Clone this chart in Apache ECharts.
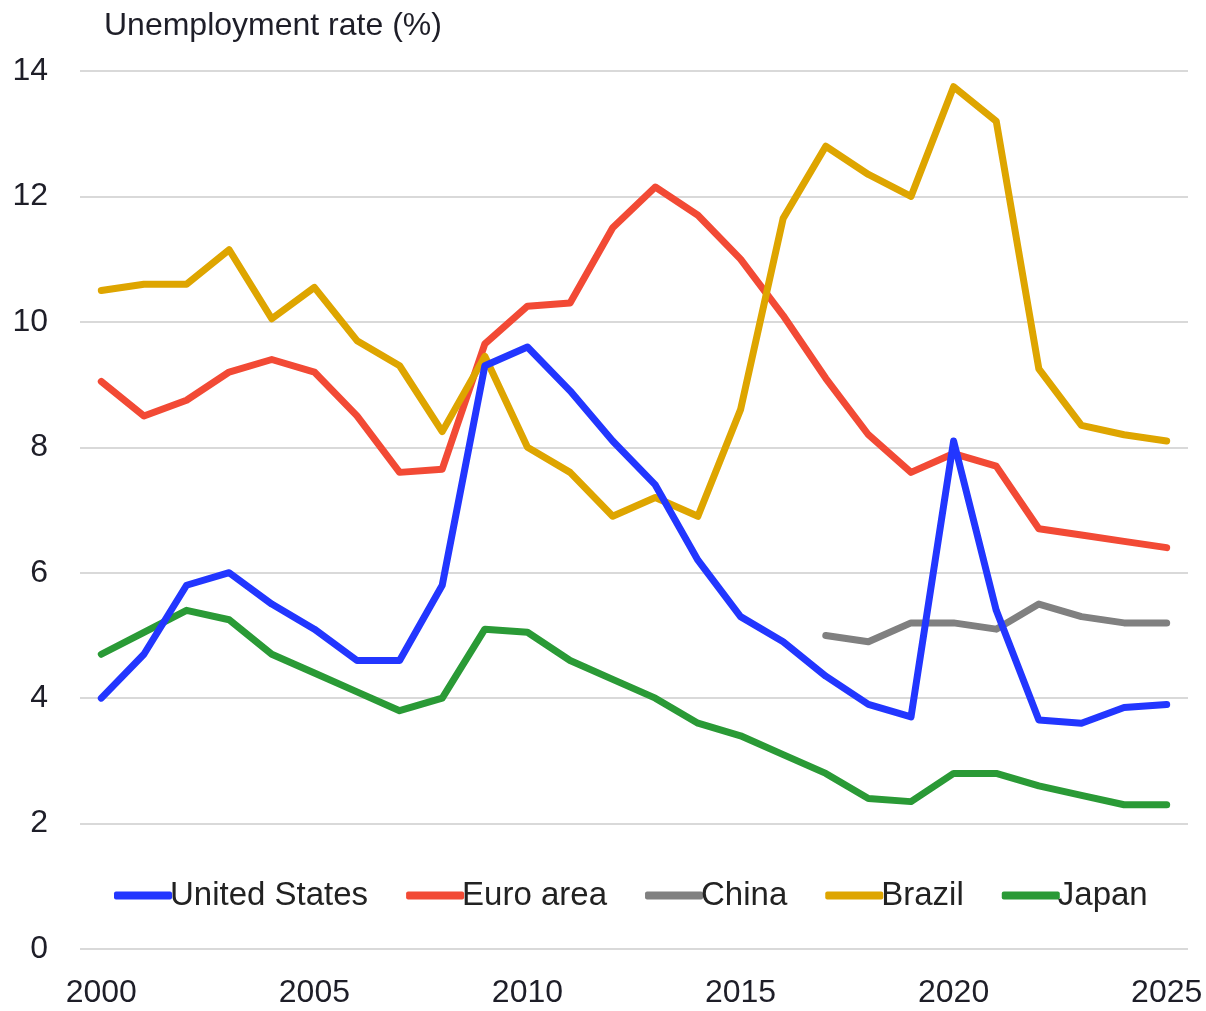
<!DOCTYPE html>
<html>
<head>
<meta charset="utf-8">
<script src="https://cdn.jsdelivr.net/npm/echarts@6/dist/echarts.min.js"></script>
<style>
  html, body { margin: 0; padding: 0; background: #fff; }
  #chart { width: 1206px; height: 1011px; }
</style>
</head>
<body>
<div id="chart"></div>
<script>
// years on the x axis
const years = [];
for (let y = 2000; y <= 2025; y++) years.push(String(y));

// unemployment rate (%)
const unitedStates = [4.0, 4.7, 5.8, 6.0, 5.5, 5.1, 4.6, 4.6, 5.8, 9.3, 9.6, 8.9, 8.1, 7.4, 6.2, 5.3, 4.9, 4.35, 3.9, 3.7, 8.1, 5.4, 3.65, 3.6, 3.85, 3.9];
const euroArea = [9.05, 8.5, 8.75, 9.2, 9.4, 9.2, 8.5, 7.6, 7.65, 9.65, 10.25, 10.3, 11.5, 12.15, 11.7, 11.0, 10.1, 9.1, 8.2, 7.6, 7.9, 7.7, 6.7, 6.6, 6.5, 6.4];
const china = [null, null, null, null, null, null, null, null, null, null, null, null, null, null, null, null, null, 5.0, 4.9, 5.2, 5.2, 5.1, 5.5, 5.3, 5.2, 5.2];
const brazil = [10.5, 10.6, 10.6, 11.15, 10.05, 10.55, 9.7, 9.3, 8.25, 9.45, 8.0, 7.6, 6.9, 7.2, 6.9, 8.6, 11.65, 12.8, 12.35, 12.0, 13.75, 13.2, 9.25, 8.35, 8.2, 8.1];
const japan = [4.7, 5.05, 5.4, 5.25, 4.7, 4.4, 4.1, 3.8, 4.0, 5.1, 5.05, 4.6, 4.3, 4.0, 3.6, 3.4, 3.1, 2.8, 2.4, 2.35, 2.8, 2.8, 2.6, 2.45, 2.3, 2.3];

const seriesNames = ["United States", "Euro area", "China", "Brazil", "Japan"];
const seriesData = [unitedStates, euroArea, china, brazil, japan];
const seriesColors = ["#2236ff", "#f24a35", "#808080", "#dea500", "#2a9a36"];
const seriesZ = [4, 2, 2, 3, 2];

const fontFamily = "'Liberation Sans', Arial, sans-serif";

let chart = echarts.init(document.getElementById("chart"));

let option = {
  animation: false,
  backgroundColor: "#fff",
  color: seriesColors,
  title: {
    text: "Unemployment rate (%)",
    left: 99,
    top: 5,
    textStyle: {
      fontFamily: fontFamily,
      fontSize: 32,
      fontWeight: "normal",
      color: "#1e1e28"
    }
  },
  legend: {
    left: 109,
    top: 874,
    itemWidth: 58,
    itemHeight: 8,
    itemGap: 38,
    icon: "roundRect",
    textStyle: {
      fontFamily: fontFamily,
      fontSize: 33,
      color: "#222",
      padding: [0, 0, 0, -7]
    },
    data: seriesNames
  },
  grid: {
    left: 80,
    right: 18,
    top: 71,
    bottom: 62,
    containLabel: false
  },
  xAxis: {
    type: "category",
    data: years,
    boundaryGap: true,
    axisLine: { show: false },
    axisTick: { show: false },
    axisLabel: {
      interval: 4,
      margin: 28,
      fontFamily: fontFamily,
      fontSize: 32,
      color: "#1e1e28"
    }
  },
  yAxis: {
    type: "value",
    min: 0,
    max: 14,
    interval: 2,
    axisLine: { show: false },
    axisTick: { show: false },
    axisLabel: {
      margin: 32,
      fontFamily: fontFamily,
      fontSize: 32,
      color: "#1e1e28"
    },
    splitLine: {
      lineStyle: { color: "#d9d9d9", width: 2 }
    }
  },
  series: seriesNames.map((name, i) => ({
    name: name,
    type: "line",
    data: seriesData[i],
    z: seriesZ[i],
    showSymbol: false,
    symbol: "none",
    connectNulls: false,
    lineStyle: { width: 7, color: seriesColors[i], cap: "round", join: "round" },
    itemStyle: { color: seriesColors[i] }
  }))
};

chart.setOption(option);
</script>
</body>
</html>
